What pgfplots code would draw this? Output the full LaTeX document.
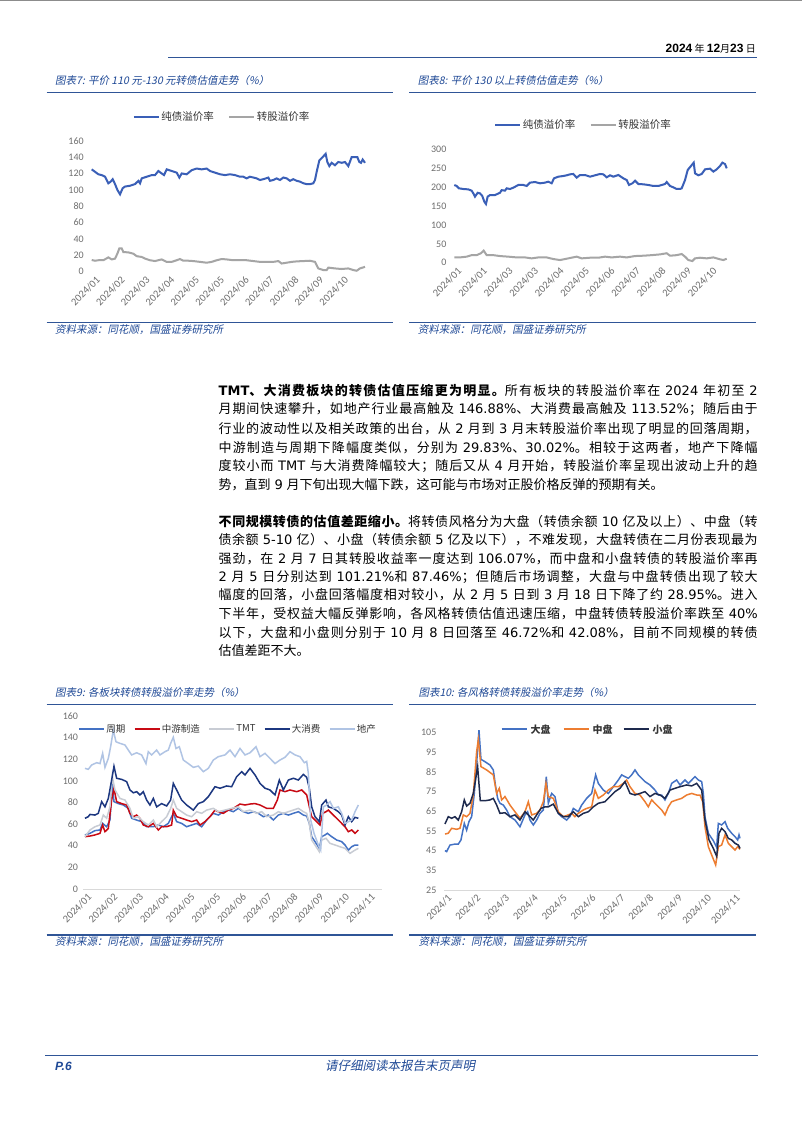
\documentclass[border=0pt]{standalone}
\usepackage{fontspec}
\setmainfont{Noto Sans CJK SC}
\newfontfamily\lt{DejaVu Sans}
\newfontfamily\ls{Liberation Sans}
\newfontfamily\tickfont{Carlito}
\newfontfamily\tit[FakeSlant=0.2]{Noto Sans CJK SC}
\usepackage{pgfplots}
\pgfplotsset{compat=1.18}
\XeTeXinterchartokenstate=1
\newcount\cjkc
\def\setcjkclass#1#2{\cjkc=#1\relax\loop\XeTeXcharclass\cjkc=7\relax\advance\cjkc by 1\relax\ifnum\cjkc<#2\repeat}
\setcjkclass{"4E00}{"A000}
\setcjkclass{"3000}{"3040}
\setcjkclass{"FF00}{"FFF0}
\def\cg{\hskip 0pt plus 1pt minus 0.3pt\relax}
\XeTeXinterchartoks 7 7 = {\cg}
\XeTeXinterchartoks 0 7 = {\cg}
\XeTeXinterchartoks 7 0 = {\cg}
\definecolor{rulecol}{RGB}{47,85,151}
\definecolor{tblue}{RGB}{31,73,150}
\definecolor{cblue}{RGB}{58,95,183}
\definecolor{cgray}{RGB}{165,165,165}
\definecolor{zqcol}{RGB}{68,114,196}
\definecolor{zycol}{RGB}{200,10,20}
\definecolor{tmtcol}{RGB}{200,204,212}
\definecolor{dxfcol}{RGB}{28,55,128}
\definecolor{dccol}{RGB}{176,196,228}
\definecolor{bigcol}{RGB}{68,114,196}
\definecolor{midcol}{RGB}{237,125,49}
\definecolor{smallcol}{RGB}{30,42,78}
\definecolor{tickcol}{RGB}{110,110,110}
\pgfplotsset{
  legend image code/.code={\draw[#1] (0pt,0pt) -- (25pt,0pt);},
  base/.style={scale only axis, anchor=south west, clip=false,
    axis line style={draw=none}, major tick length=0pt, tick style={draw=none},
    yticklabel style={font=\tickfont\fontsize{10}{11}\selectfont, text=tickcol},
    xticklabel style={font=\tickfont\fontsize{10.5}{11}\selectfont, text=tickcol, rotate=45, anchor=north east, inner sep=1pt, yshift=-3pt},
    /pgf/number format/assume math mode=true,
    legend style={draw=none, fill=none, legend columns=-1, text=black!80,
      inner sep=0pt, nodes={inner sep=1.5pt}},
  }
}
\newcommand\pline[3]{\node[anchor=west, inner sep=0pt] at (#1,-#2) {\makebox[539pt][s]{\spaceskip=3.8pt plus 0.8pt minus 0.5pt\relax #3}};}
\newcommand\plast[3]{\node[anchor=west, inner sep=0pt] at (#1,-#2) {\spaceskip=3.8pt\relax #3};}
\newcommand\lgline[1]{\textcolor{#1}{\rule[0.33em]{25pt}{1.5pt}}}
\begin{document}
\begin{tikzpicture}[x=1pt,y=1pt]
\fill[white] (0,0) rectangle (802,-1133);
\path[use as bounding box] (0,0) rectangle (802,-1133);
\draw[black!45, line width=1pt] (0,-0.5) -- (802,-0.5);
% header
\node[anchor=east, inner sep=0pt] at (756,-48.3) {{\ls\bfseries\fontsize{12}{14}\selectfont 2024} {\fontsize{10}{12}\selectfont 年} {\ls\bfseries\fontsize{12}{14}\selectfont 12}{\fontsize{10}{12}\selectfont 月}{\ls\bfseries\fontsize{12}{14}\selectfont 23} {\fontsize{10}{12}\selectfont 日}};
\draw[rulecol, line width=1.5pt] (168,-57.3) -- (757,-57.3);
% chart frames
\foreach \ya/\yb in {92.5/322.5, 704.3/935}{
  \draw[rulecol, line width=1.2pt] (46.7,-\ya) -- (392.7,-\ya);
  \draw[rulecol, line width=1.2pt] (409,-\ya) -- (755.7,-\ya);
  \draw[rulecol, line width=1.2pt] (46.7,-\yb) -- (392.7,-\yb);
  \draw[rulecol, line width=1.2pt] (409,-\yb) -- (755.7,-\yb);
}
\begin{scope}[every node/.style={anchor=west, inner sep=0pt, text=tblue, font=\tit\fontsize{10.5}{12}\selectfont}]
\node at (55,-80.7) {图表7: 平价 110 元-130 元转债估值走势（\%）};
\node at (417.7,-80.7) {图表8: 平价 130 以上转债估值走势（\%）};
\node at (55,-692.7) {图表9: 各板块转债转股溢价率走势（\%）};
\node at (418.3,-692.7) {图表10: 各风格转债转股溢价率走势（\%）};
\node at (55,-330) {资料来源：同花顺，国盛证券研究所};
\node at (417.7,-330) {资料来源：同花顺，国盛证券研究所};
\node at (55,-941.7) {资料来源：同花顺，国盛证券研究所};
\node at (418.3,-941.7) {资料来源：同花顺，国盛证券研究所};
\end{scope}
% paragraphs
\begin{scope}[font=\fontsize{13}{15}\selectfont]
\pline{218.5}{390.7}{{\bfseries{\lt TMT}、大消费板块的转债估值压缩更为明显。}所有板块的转股溢价率在 {\lt 2024} 年初至 {\lt 2}}
\pline{218.5}{409.5}{月期间快速攀升，如地产行业最高触及 {\lt 146.88\%}、大消费最高触及 {\lt 113.52\%}；随后由于}
\pline{218.5}{428.3}{行业的波动性以及相关政策的出台，从 {\lt 2} 月到 {\lt 3} 月末转股溢价率出现了明显的回落周期，}
\pline{218.5}{447.2}{中游制造与周期下降幅度类似，分别为 {\lt 29.83\%}、{\lt 30.02\%}。相较于这两者，地产下降幅}
\pline{218.5}{466}{度较小而 {\lt TMT} 与大消费降幅较大；随后又从 {\lt 4} 月开始，转股溢价率呈现出波动上升的趋}
\plast{218.5}{485}{势，直到 {\lt 9} 月下旬出现大幅下跌，这可能与市场对正股价格反弹的预期有关。}
\pline{218.5}{521.7}{{\bfseries 不同规模转债的估值差距缩小。}将转债风格分为大盘（转债余额 {\lt 10} 亿及以上）、中盘（转}
\pline{218.5}{540}{债余额 {\lt 5-10} 亿）、小盘（转债余额 {\lt 5} 亿及以下），不难发现，大盘转债在二月份表现最为}
\pline{218.5}{558.3}{强劲，在 {\lt 2} 月 {\lt 7} 日其转股收益率一度达到 {\lt 106.07\%}，而中盘和小盘转债的转股溢价率再}
\pline{218.5}{576.7}{{\lt 2} 月 {\lt 5} 日分别达到 {\lt 101.21\%}和 {\lt 87.46\%}；但随后市场调整，大盘与中盘转债出现了较大}
\pline{218.5}{595}{幅度的回落，小盘回落幅度相对较小，从 {\lt 2} 月 {\lt 5} 日到 {\lt 3} 月 {\lt 18} 日下降了约 {\lt 28.95\%}。进入}
\pline{218.5}{613.3}{下半年，受权益大幅反弹影响，各风格转债估值迅速压缩，中盘转债转股溢价率跌至 {\lt 40\%}}
\pline{218.5}{632.3}{以下，大盘和小盘则分别于 {\lt 10} 月 {\lt 8} 日回落至 {\lt 46.72\%}和 {\lt 42.08\%}，目前不同规模的转债}
\plast{218.5}{650.7}{估值差距不大。}
\end{scope}
% footer
\draw[rulecol, line width=1pt] (45,-1055) -- (758,-1055);
\node[anchor=west, inner sep=0pt, text=tblue, font=\ls\bfseries\itshape\fontsize{12}{14}\selectfont] at (55,-1066) {P.6};
\node[inner sep=0pt, text=tblue, font=\tit\fontsize{12.5}{14}\selectfont] at (400,-1066) {请仔细阅读本报告末页声明};

% ---------- Chart 7
\begin{axis}[base, at={(91.7pt,-271.7pt)}, width=273.3pt, height=131pt,
  xmin=0, xmax=820, ymin=0, ymax=160, ytick={0,20,...,160},
  yticklabel style={xshift=-4.5pt},
  xtick={5,79.5,154,228.5,303,377.5,452,526.5,601,675.5,750},
  xticklabels={2024/01,2024/02,2024/03,2024/04,2024/05,2024/05,2024/06,2024/07,2024/08,2024/09,2024/10},
  legend style={at={(0.476,1.183)}, anchor=center, font=\fontsize{10.5}{12}\selectfont,
    /tikz/every even column/.append style={column sep=13pt}}]
\addplot[cblue, line width=2pt] coordinates {(0,125) (10,122) (20,119) (30,118) (40,116) (50,108) (57,110) (63,113) (70,107) (77,100) (85,94.5) (93,102) (100,104) (115,105) (130,107) (140,111) (145,108) (150,114) (165,116) (180,118) (190,118) (200,123) (210,120) (217,118) (225,125) (240,123) (255,121) (263,115) (270,120) (285,119) (300,124) (315,126) (330,125) (345,126) (355,123) (370,121) (385,119) (400,118) (415,119) (430,118) (445,116) (455,116) (465,114) (475,116) (485,115) (495,114) (505,112) (515,113) (530,115) (535,111) (545,112) (555,114) (565,112) (575,115) (585,114) (595,111) (605,113) (615,111) (625,110) (635,108) (645,107) (655,107) (665,108) (670,112) (675,122) (683,136) (693,140) (702,144) (707,134) (713,129) (720,133) (730,130) (740,134) (750,133) (760,134) (770,129) (780,140) (790,140) (797,140) (803,134) (808,133) (813,137) (820,133)};
\addlegendentry{纯债溢价率}
\addplot[cgray, line width=2pt] coordinates {(0,14.3) (10,13.4) (20,14) (35,14) (50,17.5) (60,15) (70,16) (77,22) (83,28.5) (90,28.5) (95,24) (110,23.6) (125,22) (135,19) (150,18) (160,16) (175,14) (190,13) (210,15) (225,12) (240,12) (255,14) (265,15.5) (275,13.4) (290,13.4) (305,13) (325,12) (345,11) (360,12) (375,14) (390,15.5) (405,15) (425,14) (445,14) (465,14) (485,13) (505,12) (525,12) (545,12) (560,13) (570,10) (585,11) (600,12) (615,12.6) (635,13) (655,13.4) (670,12) (680,4) (695,2) (705,2) (710,5) (730,4) (750,3.3) (770,4) (785,2) (795,1.2) (805,4) (815,5.3) (820,6)};
\addlegendentry{转股溢价率}
\end{axis}

% ---------- Chart 8
\begin{axis}[base, at={(454.3pt,-262.7pt)}, width=272.4pt, height=113.4pt,
  xmin=0, xmax=817, ymin=0, ymax=300, ytick={0,50,...,300},
  yticklabel style={xshift=-4.4pt},
  xtick={2,78.5,155,231.5,308,384.5,461,537.5,614,690.5,767},
  xticklabels={2024/01,2024/01,2024/03,2024/03,2024/04,2024/05,2024/06,2024/07,2024/08,2024/09,2024/10},
  legend style={at={(0.474,1.214)}, anchor=center, font=\fontsize{10.5}{12}\selectfont,
    /tikz/every even column/.append style={column sep=13pt}}]
\addplot[cblue, line width=2pt] coordinates {(0,205.6) (7,203) (14,196.8) (27,195) (42,194) (52,190.6) (57,183.5) (62,174.7) (70,185) (77,183.5) (84,176.5) (90,161.5) (95,155.3) (100,174.7) (107,179) (122,179) (137,185) (142,192) (152,190.6) (157,196.8) (167,195) (177,198.5) (192,205.6) (207,205.6) (217,203) (227,211.8) (242,213.5) (257,210) (272,211.8) (282,214.4) (292,210) (299,223.2) (312,227.6) (327,229.4) (337,231.2) (347,233.8) (357,234.7) (367,225) (377,232) (392,232) (407,227.6) (422,231.2) (437,234.7) (447,233.8) (457,225.9) (467,231.2) (477,227.6) (492,232) (507,223.2) (517,218.8) (524,205.6) (534,210) (542,217) (552,208.2) (567,207.4) (582,205.6) (597,203) (612,203) (622,205.6) (632,208.2) (637,213.5) (647,203) (657,199.4) (667,195) (677,195) (682,196.8) (692,218.8) (700,245.3) (710,256) (718,264.7) (722,236.5) (732,231.2) (742,234.7) (752,247) (767,248.8) (777,241) (787,247) (797,256) (804,264.7) (812,261) (817,249.7)};
\addlegendentry{纯债溢价率}
\addplot[cgray, line width=2pt] coordinates {(0,14) (17,14) (37,16) (52,20) (67,20) (80,25) (88,32) (97,20) (117,20) (137,17.6) (162,16) (187,14) (212,14) (232,11.5) (252,14) (277,14) (297,9.7) (317,7) (342,11.5) (367,16) (382,11.5) (407,13.2) (432,13.2) (452,16) (472,14) (497,16) (517,14) (542,17.6) (567,18.5) (592,20) (617,22) (637,25) (647,18.5) (667,20) (682,23) (692,16) (702,7) (714,4.4) (722,11.5) (737,13.2) (757,11.5) (777,14) (797,9) (807,7) (817,10.6)};
\addlegendentry{转股溢价率}
\end{axis}

% ---------- Chart 9
\begin{axis}[base, at={(83.3pt,-889pt)}, width=298.4pt, height=173pt,
  xmin=0, xmax=895, ymin=0, ymax=160, ytick={0,20,...,160},
  axis lines*=left, x axis line style={draw=black!15, line width=0.8pt}, y axis line style={draw=none},
  yticklabel style={xshift=-1.8pt},
  xtick={5,82.3,159.6,236.9,314.2,391.5,468.8,546.1,623.4,700.7,778,855.3},
  xticklabels={2024/01,2024/02,2024/03,2024/04,2024/05,2024/05,2024/06,2024/07,2024/08,2024/09,2024/10,2024/11},
  legend style={at={(0.4846,0.925)}, anchor=center, font=\fontsize{9.5}{11}\selectfont,
    /tikz/every even column/.append style={column sep=7pt}}]
\addplot[zqcol, line width=1.5pt] coordinates {(5,50) (20,51.5) (35,54) (50,54.6) (58,60.7) (70,57.6) (80,63.8) (87,97.7) (92,80.8) (105,79) (120,77.7) (135,74.6) (145,65.4) (160,63.8) (175,62.3) (190,57.6) (210,57.6) (225,59.2) (240,57.6) (255,60.7) (270,70) (280,62.3) (295,60.7) (310,57.6) (325,59.2) (340,60.7) (355,57.6) (370,63.8) (390,70) (405,68.4) (420,71.5) (435,73) (450,71.5) (465,74.6) (480,71.5) (495,70) (510,71.5) (525,70) (540,66.9) (555,68.4) (570,63.8) (585,68.4) (600,70) (615,68.4) (630,70) (645,71.5) (660,68.4) (670,67.5) (678,60.7) (685,48.4) (695,43.8) (708,37.6) (715,48.4) (725,50) (732,51.5) (745,48.4) (760,45.3) (775,43.8) (785,40.7) (795,36) (805,39.1) (815,40.7) (825,40.7)};
\addlegendentry{周期}
\addplot[zycol, line width=1.5pt] coordinates {(5,48.4) (20,49) (35,50) (50,51.5) (58,59.2) (65,53) (75,56) (85,82.3) (92,93.1) (100,80.8) (115,79) (130,77.7) (140,70) (150,66.9) (160,68.4) (170,65.4) (180,59.2) (195,57.6) (210,60.7) (225,54.6) (235,57.6) (250,57.6) (265,59.2) (270,73) (280,66.9) (295,65.4) (310,63.8) (325,62.3) (340,63.8) (350,59.2) (365,62.3) (380,66.9) (395,73) (405,71.5) (420,70) (435,73) (450,74.6) (470,78.6) (485,77.7) (500,78.6) (515,79) (530,77.7) (550,74.6) (570,74.6) (582,82.3) (590,91.6) (605,90) (620,91.6) (640,90) (655,91.6) (670,87) (678,76) (685,66.9) (695,63.8) (710,59.2) (718,70) (728,71.5) (735,73) (750,68.4) (765,63.8) (775,60.7) (785,57.6) (795,53) (805,54.6) (815,51.5) (825,54.6)};
\addlegendentry{中游制造}
\addplot[tmtcol, line width=1.5pt] coordinates {(5,48.4) (20,54.6) (35,57.6) (50,59.2) (60,68.4) (70,65.4) (80,76) (87,103.9) (95,91.6) (110,83.8) (125,82.3) (140,74.6) (150,65.4) (165,66.9) (180,62.3) (195,59.2) (210,63.8) (220,57.6) (235,62.3) (250,66.9) (262,74.6) (270,82.3) (280,74.6) (295,71.5) (310,68.4) (325,66.9) (340,71.5) (355,70) (370,73) (390,74.6) (405,71.5) (425,73) (445,74.6) (465,76) (480,71.5) (500,73) (520,70) (535,71.5) (550,66.9) (570,68.4) (585,71.5) (600,70) (615,71.5) (630,73) (645,74.6) (660,71.5) (670,70) (678,60.7) (685,45.3) (695,40.7) (708,34.5) (715,45.3) (728,46.9) (740,42.2) (755,40.7) (770,39.1) (785,37.6) (800,33) (815,36) (825,37.6)};
\addlegendentry{TMT}
\addplot[dxfcol, line width=1.5pt] coordinates {(5,65.4) (15,66.9) (20,69) (35,68.4) (45,70) (55,80.8) (65,76) (75,83.8) (85,100.8) (92,113.5) (100,102.4) (115,101.4) (130,99.3) (140,91.6) (150,89) (160,90) (170,87) (180,90) (190,82.3) (200,77.7) (210,83.8) (220,76) (235,79) (250,76.8) (262,82.3) (270,97.7) (280,91.6) (295,82.3) (310,77.7) (330,73) (345,79) (360,80.8) (375,85.4) (395,94.6) (410,93.2) (430,95.3) (445,94.6) (460,103.9) (475,108.5) (485,105.5) (500,111.6) (515,105.5) (530,97.7) (545,93.2) (560,91.6) (575,87) (588,100.8) (600,91.6) (615,100.8) (630,102.4) (645,100.8) (660,106) (670,103.3) (678,93.2) (685,76) (695,66.9) (708,62.3) (715,77.7) (728,82.3) (735,76) (750,74.6) (765,71.5) (775,68.4) (785,59.2) (795,66.9) (805,62.3) (815,66.3) (825,65.4)};
\addlegendentry{大消费}
\addplot[dccol, line width=1.5pt] coordinates {(5,111.6) (15,110.7) (25,114.7) (40,116.8) (50,116) (58,125.5) (65,112.5) (75,120.8) (82,131.6) (90,146.9) (98,136.2) (110,134.7) (125,133.2) (135,128.5) (145,124) (160,126) (175,124) (188,116) (195,127) (205,124) (220,128.5) (230,124) (245,127) (255,128.5) (262,134.7) (270,140.3) (278,130) (288,131.6) (300,119.3) (315,116) (330,112.5) (345,113.7) (360,108.5) (375,111.6) (390,119.3) (405,122.4) (425,124) (440,128.5) (455,122.4) (470,130) (485,124) (500,126) (518,131.6) (530,122.4) (545,125.5) (560,120.8) (575,116) (590,119.3) (605,121.8) (620,127) (635,124) (650,122.4) (663,116.8) (670,118) (675,107) (682,63.8) (692,51.5) (705,40.7) (712,36) (720,76) (730,77.7) (740,80.8) (750,74.6) (765,76) (775,70) (785,60.7) (795,62.3) (805,63.8) (815,71.5) (825,77.7)};
\addlegendentry{地产}
\end{axis}

% ---------- Chart 10
\begin{axis}[base, at={(444.3pt,-890pt)}, width=295.7pt, height=157.7pt,
  xmin=0, xmax=887, ymin=25, ymax=105, ytick={25,35,...,105},
  axis lines*=left, x axis line style={draw=black!15, line width=0.8pt}, y axis line style={draw=none},
  yticklabel style={xshift=-4.4pt},
  xtick={2,88.5,175,261.5,348,434.5,521,607.5,694,780.5,867},
  xticklabels={2024/1,2024/2,2024/3,2024/4,2024/5,2024/6,2024/7,2024/8,2024/9,2024/10,2024/11}]
\addplot[bigcol, line width=1.5pt] coordinates {(2,45) (7,44.5) (17,47.8) (32,48.3) (42,48.3) (50,50.4) (60,58.8) (67,55.4) (74,59.7) (82,62.2) (90,74) (97,89.3) (104,106.1) (110,91.3) (122,90.1) (137,88.4) (147,85.9) (154,77.4) (160,71.5) (167,69) (177,68.1) (187,65.6) (197,62.2) (212,60.5) (227,57.1) (242,63.1) (250,64.7) (257,60.5) (267,58) (277,60.5) (287,63.9) (297,65.6) (306,82.5) (312,69) (322,74) (332,72.4) (342,63.9) (352,62.2) (367,60.5) (377,62.2) (387,66.4) (402,64.7) (412,68.1) (427,71.5) (442,74) (454,83.4) (462,79.1) (477,75.7) (492,74) (507,77.4) (522,80.8) (532,83.4) (542,82.5) (552,81.7) (562,83.4) (572,85.9) (582,83.4) (592,81.7) (602,80) (617,78.3) (632,75.7) (642,73.2) (652,73.2) (662,70.7) (672,74) (682,79.1) (697,80.8) (707,78.3) (722,80.8) (732,79.1) (742,80.8) (752,82.5) (762,80.8) (772,80) (777,74) (782,62.2) (792,53.8) (807,50) (817,46.7) (822,58.8) (832,58) (842,59.7) (850,56.3) (862,53.8) (872,52.1) (880,50.4) (884,53) (887,51.2)};
\addplot[midcol, line width=1.5pt] coordinates {(2,53.4) (12,53.8) (22,56.3) (37,55.8) (47,56.3) (57,63.1) (67,62.2) (77,63.9) (87,73.2) (97,95.2) (102,101.2) (110,87.6) (127,85.9) (147,83.4) (157,74) (165,76.6) (172,70.7) (182,72.4) (197,68.1) (212,64.7) (227,61.4) (242,64.7) (252,69.8) (262,63.1) (277,63.9) (287,65.6) (297,69.8) (305,79.1) (312,72.4) (327,71.5) (342,64.7) (357,62.2) (372,63.1) (382,63.9) (392,62.2) (402,63.9) (417,65.6) (427,66.4) (442,67.2) (452,75.7) (462,71.5) (477,73.2) (492,75.7) (507,77.4) (522,77.4) (537,79.1) (547,80.8) (557,77.4) (572,74) (587,73.2) (602,69.8) (612,67.2) (622,70.7) (637,68.1) (652,65.6) (662,63.1) (672,67.2) (682,69.8) (697,70.7) (712,71.5) (727,73.2) (742,74) (757,73.2) (767,73.2) (775,69.8) (782,57.1) (792,47) (802,42.8) (814,37.7) (822,47) (832,47.8) (842,52.9) (852,48.7) (862,47) (872,45.3) (880,47) (887,45.6)};
\addplot[smallcol, line width=1.5pt] coordinates {(2,58.5) (12,62.2) (22,61.4) (32,62.2) (42,60.5) (52,64.7) (60,70.7) (67,67.6) (77,69) (87,74) (100,87.5) (108,70.3) (122,70.3) (137,70.7) (147,71.5) (157,68.1) (167,63.9) (182,64.2) (197,62.2) (212,63.1) (227,60.5) (242,64.7) (252,63.1) (267,60.5) (277,63.1) (290,66.4) (302,67.2) (312,67.2) (327,68.6) (342,63.9) (357,62.2) (372,62.2) (387,64.7) (402,62.2) (417,63.9) (432,64.7) (447,67.2) (462,69) (482,69.8) (497,72.4) (512,74.9) (527,76.6) (542,80) (557,74) (572,73.2) (587,74) (602,74.9) (617,72.4) (632,74) (647,73.2) (662,71.5) (677,75.7) (692,76.6) (707,77.4) (727,78.3) (742,77.8) (757,79.1) (772,75.7) (782,60.5) (794,50.4) (807,46.1) (817,42.1) (824,53.8) (832,56.3) (842,54.6) (852,51.2) (862,50.4) (872,48.7) (882,47.8) (887,46.1)};
\node[anchor=center, inner sep=0pt, font=\bfseries\fontsize{10}{12}\selectfont, text=black!80] at (rel axis cs:0.4826,1.019) {\lgline{bigcol}\hspace{4pt}大盘\hspace{13pt}\lgline{midcol}\hspace{4pt}中盘\hspace{11pt}\lgline{smallcol}\hspace{4pt}小盘};
\end{axis}
\end{tikzpicture}
\end{document}
